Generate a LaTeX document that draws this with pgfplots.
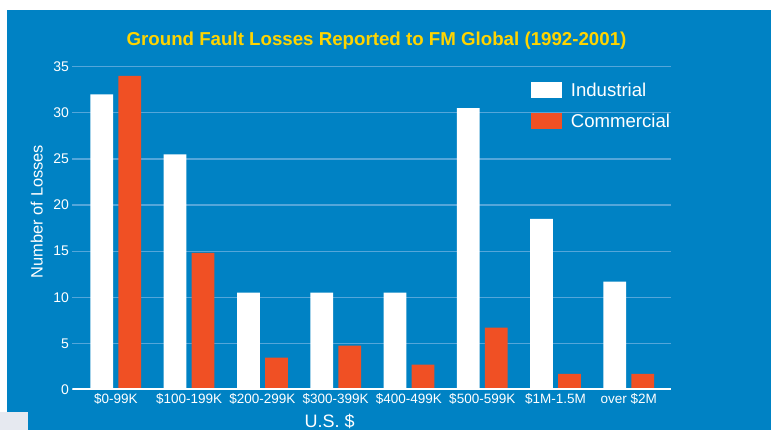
\documentclass[border=0pt]{standalone}
\usepackage{pgfplots}
\pgfplotsset{compat=1.18}
\usepackage{fontspec}
\setmainfont{Liberation Sans}
\definecolor{bgblue}{RGB}{0,130,196}
\definecolor{barorange}{RGB}{240,80,36}
\definecolor{gridblue}{RGB}{84,166,218}
\definecolor{titleyellow}{RGB}{255,212,0}
\definecolor{patchgray}{RGB}{230,233,240}
\pgfplotsset{boxlegend/.style={legend image code/.code={\fill[##1] (0pt,-7.7pt) rectangle (31pt,8pt);}}}
\begin{document}
\begin{tikzpicture}[x=1pt,y=1pt]
\useasboundingbox (0,0) rectangle (771,430);
\fill[white] (0,0) rectangle (771,430);
\fill[bgblue] (7,0) rectangle (771,420);
\fill[patchgray] (0,0) rectangle (28,18);
\begin{axis}[
  at={(72.5pt,40.5pt)}, anchor=south west,
  scale only axis, width=598.5pt, height=322.8pt,
  xmin=-0.591, xmax=7.575, ymin=0, ymax=35,
  ybar, bar width=0.31,
  axis line style={draw=none},
  ytick={0,5,...,35},
  xtick={0,...,7},
  xticklabels={\$0-99K,\$100-199K,\$200-299K,\$300-399K,\$400-499K,\$500-599K,\$1M-1.5M,over \$2M},
  major tick length=0pt,
  ymajorgrids, grid style={gridblue, line width=1.3pt},
  tick label style={text=white},
  yticklabel style={font=\fontsize{14}{16}\selectfont},
  xticklabel style={font=\fontsize{13.5}{16}\selectfont},
  /pgf/number format/assume math mode=true,
  legend cell align=left,
  legend style={at={(0.766,0.9526)}, anchor=north west, draw=none, fill=none, inner sep=0pt,
    text=white, font=\fontsize{18.6}{20}\selectfont,
    nodes={inner sep=0pt, text height=14pt, text depth=1.7pt},
    row sep=15.3pt,
    /tikz/every odd column/.append style={column sep=8.7pt}},
]
\addplot[fill=white, draw=none, bar shift=-0.191, boxlegend] coordinates {(0,32) (1,25.5) (2,10.5) (3,10.5) (4,10.5) (5,30.5) (6,18.5) (7,11.7)};
\addplot[fill=barorange, draw=none, bar shift=0.191, boxlegend] coordinates {(0,34) (1,14.8) (2,3.45) (3,4.75) (4,2.7) (5,6.7) (6,1.7) (7,1.7)};
\legend{Industrial, Commercial}
\draw[gridblue!60!white, line width=1pt] ([yshift=-2.6pt]rel axis cs:0,0) -- ([yshift=-2.6pt]rel axis cs:1,0);
\draw[white, line width=2.5pt] (rel axis cs:0,0) -- (rel axis cs:1,0);
\end{axis}
\node[text=titleyellow, font=\fontsize{18.7}{20}\selectfont\bfseries, anchor=base] at (376.5,384) {Ground Fault Losses Reported to FM Global (1992-2001)};
\node[rotate=90, anchor=base, text=white, font=\fontsize{16.4}{18}\selectfont] at (42.7,218.5) {Number of Losses};
\node[anchor=base, text=white, font=\fontsize{18}{20}\selectfont] at (329.6,2) {U.S. \$};
\end{tikzpicture}
\end{document}
